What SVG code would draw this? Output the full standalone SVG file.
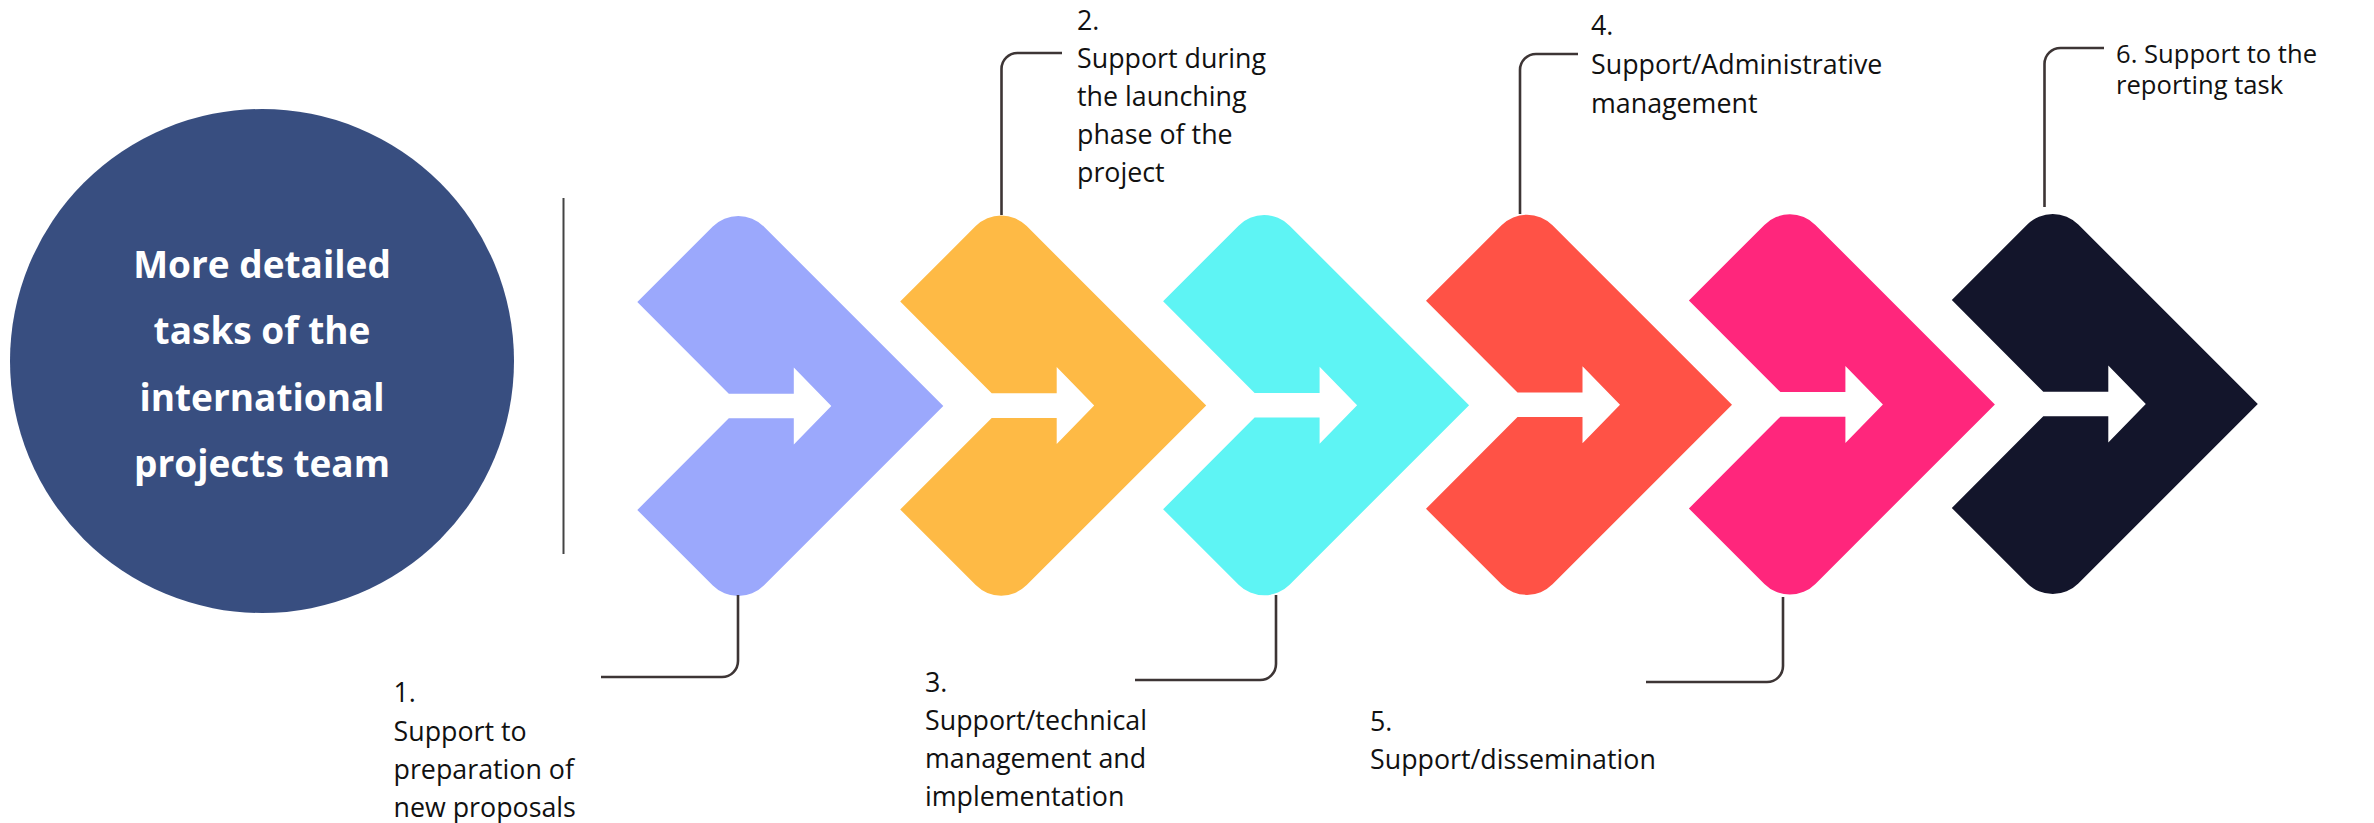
<svg xmlns="http://www.w3.org/2000/svg" xmlns:xlink="http://www.w3.org/1999/xlink" width="2374" height="823" viewBox="0 0 2374 823">
<style>
.lbl{font-family:"Open Sans","Noto Sans","Liberation Sans",sans-serif;font-size:26.8px;fill:#111111}
.sm{font-size:25.6px}
.hub{font-family:"Open Sans","Noto Sans","Liberation Sans",sans-serif;font-size:37px;font-weight:bold;fill:#ffffff;text-anchor:middle}
.con{fill:none;stroke:#3d3535;stroke-width:2.6}
</style>
<defs>
<path id="chev" d="M -101,-104 L -25.5,-179.5 A 36 36 0 0 1 25.5,-179.5 L 205,0 L 25.5,179.5 A 36 36 0 0 1 -25.5,179.5 L -101,104 L -9.5,12.3 L 55.5,12.3 L 55.5,38.5 L 93,0 L 55.5,-38.5 L 55.5,-12.3 L -9.5,-12.3 Z"/>
</defs>
<rect width="2374" height="823" fill="#ffffff"/>
<g id="hub">
<circle cx="262" cy="361" r="252" fill="#384e80"/>
<text class="hub" x="262" y="278">More detailed</text>
<text class="hub" x="262" y="344">tasks of the</text>
<text class="hub" x="262" y="411">international</text>
<text class="hub" x="262" y="477">projects team</text>
</g>
<g id="divider"><line x1="563.5" y1="198" x2="563.5" y2="554" stroke="#444444" stroke-width="2"/></g>
<g id="step1"><use xlink:href="#chev" x="738.3" y="406" fill="#9ba8fc"/></g>
<g id="step2"><use xlink:href="#chev" x="1001.2" y="405.6" fill="#feba45"/></g>
<g id="step3"><use xlink:href="#chev" x="1264.1" y="405.2" fill="#5ef4f4"/></g>
<g id="step4"><use xlink:href="#chev" x="1527" y="404.8" fill="#ff5246"/></g>
<g id="step5"><use xlink:href="#chev" x="1789.9" y="404.4" fill="#ff267c"/></g>
<g id="step6"><use xlink:href="#chev" x="2052.8" y="404" fill="#13152b"/></g>
<g id="connectors">
<path class="con" d="M 738 595 V 661 A 16 16 0 0 1 722 677 H 601"/>
<path class="con" d="M 1001.5 215 V 69 A 16 16 0 0 1 1017.5 53 H 1062"/>
<path class="con" d="M 1276 595 V 664 A 16 16 0 0 1 1260 680 H 1135"/>
<path class="con" d="M 1520 214 V 70 A 16 16 0 0 1 1536 54 H 1578"/>
<path class="con" d="M 1783 597 V 666 A 16 16 0 0 1 1767 682 H 1646"/>
<path class="con" d="M 2044.5 207 V 64 A 16 16 0 0 1 2060.5 48 H 2104"/>
</g>
<g id="label1">
<text class="lbl" x="393.5" y="702">1.</text>
<text class="lbl" x="393.5" y="741">Support to</text>
<text class="lbl" x="393.5" y="779">preparation of</text>
<text class="lbl" x="393.5" y="817">new proposals</text>
</g>
<g id="label2">
<text class="lbl" x="1077" y="30">2.</text>
<text class="lbl" x="1077" y="68">Support during</text>
<text class="lbl" x="1077" y="106">the launching</text>
<text class="lbl" x="1077" y="144">phase of the</text>
<text class="lbl" x="1077" y="182">project</text>
</g>
<g id="label3">
<text class="lbl" x="925" y="692">3.</text>
<text class="lbl" x="925" y="730">Support/technical</text>
<text class="lbl" x="925" y="768">management and</text>
<text class="lbl" x="925" y="806">implementation</text>
</g>
<g id="label4">
<text class="lbl" x="1591" y="35">4.</text>
<text class="lbl" x="1591" y="74">Support/Administrative</text>
<text class="lbl" x="1591" y="113">management</text>
</g>
<g id="label5">
<text class="lbl" x="1370" y="731">5.</text>
<text class="lbl" x="1370" y="769">Support/dissemination</text>
</g>
<g id="label6">
<text class="lbl sm" x="2116" y="63">6. Support to the</text>
<text class="lbl sm" x="2116" y="94">reporting task</text>
</g>
</svg>
